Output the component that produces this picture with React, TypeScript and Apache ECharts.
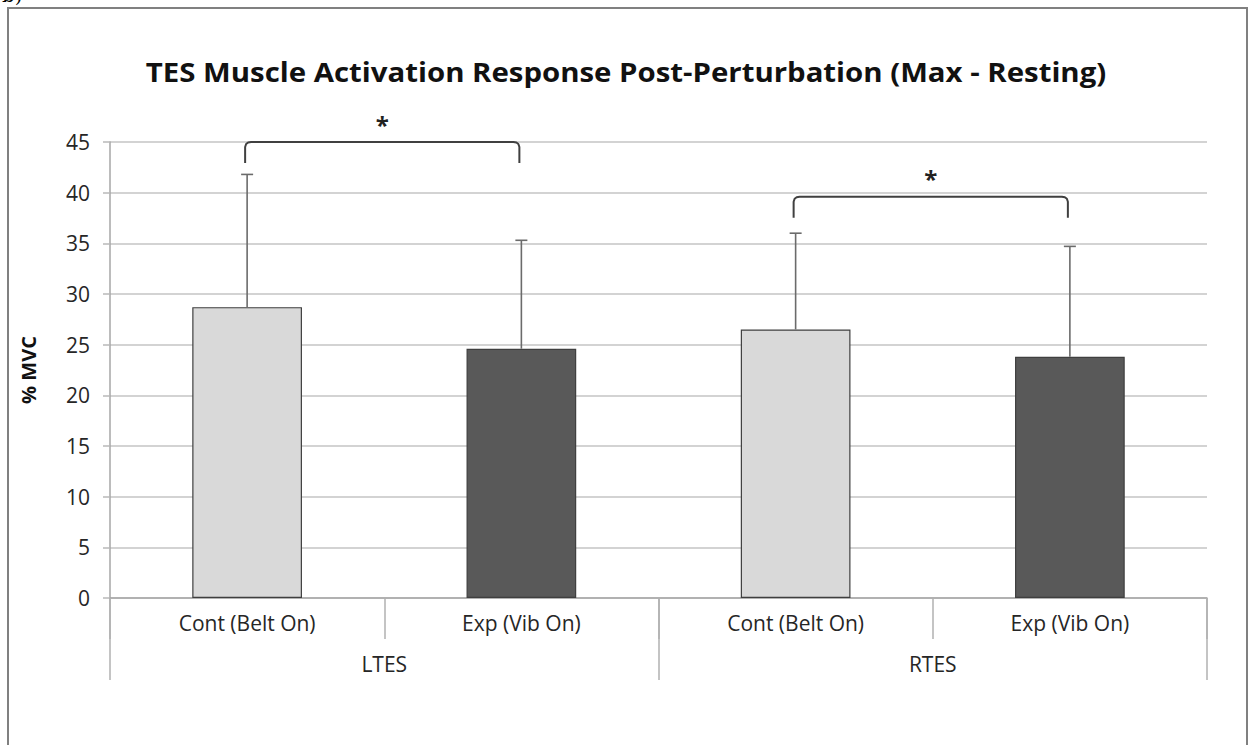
import React, { useEffect, useRef } from "react";
import * as echarts from "echarts";

const titleText = "TES Muscle Activation Response Post-Perturbation (Max - Resting)";
const yAxisName = "% MVC";
const conditions = ["Cont (Belt On)", "Exp (Vib On)", "Cont (Belt On)", "Exp (Vib On)"];
const groups = ["LTES", "RTES"];
const means = [28.7, 24.6, 26.5, 23.8];
const sdUp = [13.1, 10.7, 9.5, 10.9];
const barColors = ["#d9d9d9", "#595959", "#d9d9d9", "#595959"];
const sigPairs = [[0, 1], [2, 3]];
const sigLevels = [45, 39.6];
const sigLabels = ["*", "*"];
const yMin = 0;
const yMax = 45;
const yStep = 5;

const FONT = "'Open Sans', 'Noto Sans', sans-serif";

export default function App() {
  const ref = useRef<HTMLDivElement>(null);
  useEffect(() => {
    if (!ref.current) return;
    const chart = echarts.init(ref.current, undefined, { renderer: "svg" });
    const cats = conditions.map((c, i) => `${i}|${c}`);
    const option: any = {
      animation: false,
      backgroundColor: "#ffffff",
      graphic: [
        {
          type: "rect",
          shape: { x: 8, y: 8, width: 1239, height: 800 },
          style: { fill: "none", stroke: "#808080", lineWidth: 2 },
          silent: true,
        },
        {
          type: "text",
          x: 2,
          y: -15,
          style: { text: "b)", font: "20px 'DejaVu Serif', serif", fill: "#000" },
          silent: true,
        },
        {
          type: "text",
          x: 626,
          y: 72,
          scaleX: 1.13,
          style: {
            text: titleText,
            font: `bold 26px ${FONT}`,
            fill: "#111",
            align: "center",
            verticalAlign: "middle",
          },
          silent: true,
        },
      ],
      grid: { left: 110, right: 44, top: 142, bottom: 147, containLabel: false },
      xAxis: [
        {
          type: "category",
          data: cats,
          boundaryGap: true,
          position: "bottom",
          axisLine: { show: true, lineStyle: { color: "#a6a6a6", width: 1.5 } },
          axisTick: { show: true, interval: 0, length: 41, lineStyle: { color: "#b0b0b0", width: 1.5 } },
          axisLabel: {
            interval: 0,
            margin: 14,
            formatter: (v: string) => v.split("|")[1],
            fontFamily: FONT,
            fontSize: 21,
            color: "#262626",
          },
          splitLine: { show: false },
        },
        {
          type: "category",
          data: groups,
          boundaryGap: true,
          position: "bottom",
          offset: 0,
          axisLine: { show: false },
          axisTick: { show: true, interval: 0, length: 82, lineStyle: { color: "#b0b0b0", width: 1.5 } },
          axisLabel: { interval: 0, margin: 55, fontFamily: FONT, fontSize: 21, color: "#262626" },
          splitLine: { show: false },
        },
      ],
      yAxis: {
        type: "value",
        min: yMin,
        max: yMax,
        interval: yStep,
        name: yAxisName,
        nameLocation: "middle",
        nameGap: 72,
        nameTextStyle: { fontFamily: FONT, fontSize: 20, fontWeight: "bold", color: "#111" },
        axisLine: { show: true, lineStyle: { color: "#a6a6a6", width: 1.5 } },
        axisTick: { show: true, length: 7, lineStyle: { color: "#b8b8b8", width: 1.5 } },
        axisLabel: { margin: 20, fontFamily: FONT, fontSize: 21, color: "#262626" },
        splitLine: { show: true, lineStyle: { color: "#c4c4c4", width: 1.5 } },
      },
      series: [
        {
          type: "bar",
          xAxisIndex: 0,
          barWidth: "40%",
          data: means.map((m, i) => ({
            value: m,
            itemStyle: { color: barColors[i], borderColor: "#3f3f3f", borderWidth: 1.2 },
          })),
        },
        {
          type: "custom",
          xAxisIndex: 0,
          z: 5,
          data: means.map((m, i) => [i, m, sdUp[i]]),
          encode: { x: 0, y: 1 },
          renderItem: (params: any, api: any) => {
            const x = api.value(0);
            const m = api.value(1);
            const s = api.value(2);
            const b = api.coord([x, m]);
            const t = api.coord([x, m + s]);
            const st = { stroke: "#6b6b6b", lineWidth: 1.6 };
            return {
              type: "group",
              children: [
                { type: "line", shape: { x1: b[0], y1: b[1], x2: t[0], y2: t[1] }, style: st },
                { type: "line", shape: { x1: t[0] - 6, y1: t[1], x2: t[0] + 6, y2: t[1] }, style: st },
              ],
            };
          },
        },
        {
          type: "custom",
          xAxisIndex: 0,
          z: 6,
          clip: false,
          data: sigPairs.map((p, i) => [p[0], p[1], sigLevels[i], sigLabels[i]]),
          encode: { x: [0, 1], y: 2 },
          renderItem: (params: any, api: any) => {
            const a = api.value(0);
            const b = api.value(1);
            const lv = api.value(2);
            const idx = params.dataIndex;
            const l = api.coord([a, lv]);
            const r = api.coord([b, lv]);
            const lx = l[0] - 2;
            const rx = r[0] - 2;
            const y = l[1];
            const drop = 21;
            const st = { stroke: "#404040", lineWidth: 2, fill: "none", lineJoin: "round" };
            return {
              type: "group",
              children: [
                {
                  type: "polyline",
                  shape: {
                    points: [
                      [lx, y + drop],
                      [lx, y + 5],
                      [lx + 1, y + 2],
                      [lx + 3, y + 0.5],
                      [lx + 6, y],
                      [rx - 6, y],
                      [rx - 3, y + 0.5],
                      [rx - 1, y + 2],
                      [rx, y + 5],
                      [rx, y + drop],
                    ],
                  },
                  style: st,
                },
                {
                  type: "text",
                  x: (lx + rx) / 2,
                  y: y - 6,
                  style: {
                    text: sigLabels[idx],
                    font: `bold 24px ${FONT}`,
                    fill: "#222",
                    align: "center",
                    verticalAlign: "bottom",
                  },
                },
              ],
            };
          },
        },
      ],
    };
    chart.setOption(option);
    return () => chart.dispose();
  }, []);
  return (
    <div
      ref={ref}
      style={{ position: "absolute", left: 0, top: 0, width: 1251, height: 745, overflow: "hidden" }}
    />
  );
}
